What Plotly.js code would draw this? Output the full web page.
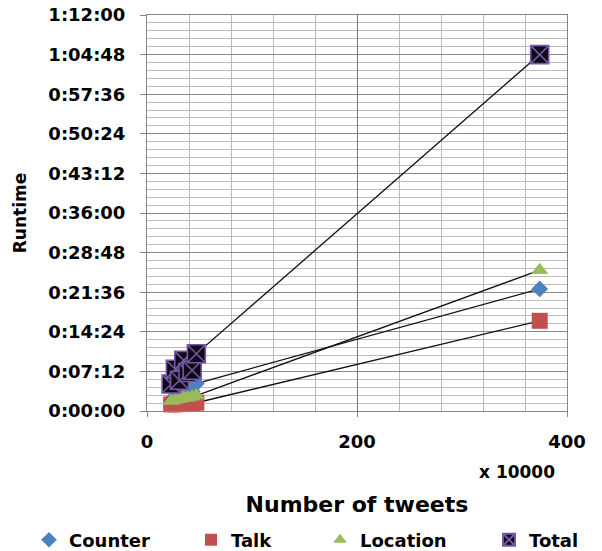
<!DOCTYPE html>
<html>
<head>
<meta charset="utf-8">
<script src="https://cdn.plot.ly/plotly-3.0.1.min.js"></script>
<style>html,body{margin:0;padding:0;background:#fff;}#chart{width:602px;height:551px;}</style>
</head>
<body>
<div id="chart"></div>
<script>
// Number of tweets (display unit: x 10000)
const tweetsX10000 = [23, 27, 31, 35, 39, 43, 47, 374];
// Runtimes (h:mm:ss)
const counterRuntime  = ['0:02:00','0:02:24','0:02:36','0:03:00','0:03:12','0:03:36','0:05:00','0:22:12'];
const talkRuntime     = ['0:01:12','0:01:12','0:01:18','0:01:18','0:01:24','0:01:24','0:01:30','0:16:24'];
const locationRuntime = ['0:01:48','0:02:00','0:02:12','0:02:24','0:02:24','0:02:36','0:02:48','0:25:36'];
const totalRuntime    = ['0:04:54','0:07:36','0:05:36','0:09:12','0:07:00','0:07:24','0:10:24','1:04:48'];
const seriesNames = ['Counter', 'Talk', 'Location', 'Total'];
// Axis tick labels
const xTickLabels = ['0', '200', '400'];
const yTickLabels = ['0:00:00','0:07:12','0:14:24','0:21:36','0:28:48','0:36:00','0:43:12','0:50:24','0:57:36','1:04:48','1:12:00'];

function toSec(s) {
  const p = s.split(':').map(Number);
  return p[0] * 3600 + p[1] * 60 + p[2];
}

const FONT = 'DejaVu Sans, Liberation Sans, Arial, sans-serif';
const series = [
  {name: seriesNames[0], y: counterRuntime,  marker: {symbol: 'diamond', size: 13, color: '#4F81BD'}},
  {name: seriesNames[1], y: talkRuntime,     marker: {symbol: 'square', size: 16, color: '#C0504D'}},
  {name: seriesNames[2], y: locationRuntime, marker: {symbol: 'triangle-up', size: 15, color: '#9BBB59'}},
  {name: seriesNames[3], y: totalRuntime,    marker: {symbol: 'square-x', size: 18, color: '#0d0b14', line: {color: '#7656a6', width: 1.6}}}
];

const traces = [];
series.forEach(s => {
  traces.push({
    type: 'scatter', mode: 'lines', x: tweetsX10000, y: s.y.map(toSec),
    line: {color: '#111111', width: 1.3}, showlegend: false, hoverinfo: 'skip', cliponaxis: false
  });
});
const legendIds = ['legend', 'legend2', 'legend3', 'legend4'];
series.forEach((s, i) => {
  traces.push({
    type: 'scatter', mode: 'markers', name: s.name, x: tweetsX10000, y: s.y.map(toSec),
    marker: s.marker, legend: legendIds[i], cliponaxis: false
  });
});

const tickFont = {family: FONT, size: 18, color: '#000', weight: 'bold'};
const legendX = [29, 191, 320, 489];
const layout = {
  width: 602, height: 551,
  margin: {l: 147, r: 35, t: 15, b: 140},
  paper_bgcolor: '#ffffff', plot_bgcolor: '#ffffff',
  font: {family: FONT, color: '#000'},
  xaxis: {
    range: [0, 400],
    tickmode: 'array', tickvals: xTickLabels.map(Number), ticktext: xTickLabels,
    ticks: 'outside', ticklen: 5, tickcolor: '#868686', ticklabelstandoff: 9,
    tickfont: tickFont,
    showline: true, linecolor: '#868686', linewidth: 1, mirror: true,
    showgrid: true, gridcolor: '#7a7a7a', gridwidth: 1,
    minor: {tickmode: 'linear', tick0: 0, dtick: 40, showgrid: true, gridcolor: '#b8b8b8', gridwidth: 1, ticks: ''},
    zeroline: false,
    title: {text: 'Number of tweets', font: {family: FONT, size: 22, color: '#000', weight: 'bold'}, standoff: 46}
  },
  yaxis: {
    range: [0, 4320],
    tickmode: 'array', tickvals: yTickLabels.map(toSec), ticktext: yTickLabels,
    ticks: 'outside', ticklen: 6, tickcolor: '#868686', ticklabelstandoff: 11,
    tickfont: tickFont,
    showline: true, linecolor: '#868686', linewidth: 1, mirror: true,
    showgrid: true, gridcolor: '#8a8a8a', gridwidth: 1,
    minor: {tickmode: 'linear', tick0: 0, dtick: 86.4, showgrid: true, gridcolor: '#bcbcbc', gridwidth: 1, ticks: ''},
    zeroline: false,
    title: {text: 'Runtime', font: {family: FONT, size: 17, color: '#000', weight: 'bold'}, standoff: 17}
  },
  annotations: [{
    text: 'x 10000', xref: 'paper', yref: 'paper', x: 0.881, y: -0.154,
    xanchor: 'center', yanchor: 'middle', showarrow: false,
    font: {family: FONT, size: 17, color: '#000', weight: 'bold'}
  }]
};
legendIds.forEach((id, i) => {
  layout[id] = {
    orientation: 'h', xref: 'container', yref: 'container',
    x: legendX[i] / 602, y: 11 / 551, xanchor: 'left', yanchor: 'middle',
    bgcolor: 'rgba(0,0,0,0)', borderwidth: 0, itemsizing: 'constant',
    font: {family: FONT, size: 18, color: '#000', weight: 'bold'}
  };
});

Plotly.newPlot('chart', traces, layout, {displayModeBar: false, staticPlot: true});
</script>
</body>
</html>
